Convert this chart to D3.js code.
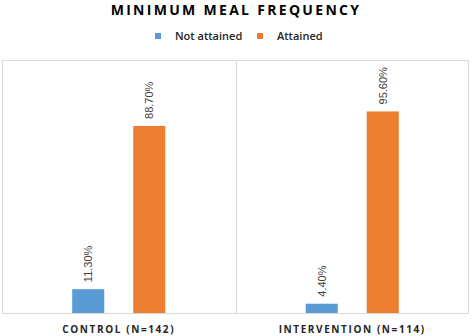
<!DOCTYPE html>
<html>
<head>
<meta charset="utf-8">
<script src="https://cdn.jsdelivr.net/npm/d3@7"></script>
<style>
  body { margin: 0; background: #fff; }
  .chart-title { font-family: "Open Sans", sans-serif; font-weight: 700; font-size: 14px; letter-spacing: 2.3px; fill: #000; }
  .legend-label { font-family: "Open Sans", sans-serif; font-weight: 600; font-size: 11px; fill: #262626; }
  .x-label { font-family: "Open Sans", sans-serif; font-weight: 700; font-size: 10px; letter-spacing: 1.6px; fill: #262626; }
  .bar-label { font-family: "Liberation Sans", Arial, sans-serif; font-size: 11px; fill: #404040; }
</style>
</head>
<body>
<div id="chart"></div>
<script>
const categories = ["CONTROL (N=142)", "INTERVENTION (N=114)"];
const seriesNames = ["Not attained", "Attained"];
const notAttained = [0.113, 0.044];
const attained = [0.887, 0.956];
const colors = ["#5B9BD5", "#ED7D31"];

const data = categories.map((c, i) => ({
  category: c,
  values: [
    { series: seriesNames[0], value: notAttained[i] },
    { series: seriesNames[1], value: attained[i] }
  ]
}));

const width = 472, height = 336;
const margin = { top: 60, right: 3, bottom: 23, left: 2 };

const svg = d3.select("#chart").append("svg")
  .attr("width", width)
  .attr("height", height);

// Title
svg.append("text")
  .attr("class", "chart-title")
  .attr("x", width / 2)
  .attr("y", 15)
  .attr("text-anchor", "middle")
  .text("MINIMUM MEAL FREQUENCY");

// Legend
const legendPos = [155, 257];
const legend = svg.selectAll(".legend")
  .data(seriesNames)
  .enter().append("g")
  .attr("class", "legend")
  .attr("transform", (d, i) => `translate(${legendPos[i]},36)`);
legend.append("rect")
  .attr("x", 0).attr("y", -3)
  .attr("width", 6).attr("height", 6)
  .attr("fill", (d, i) => colors[i]);
legend.append("text")
  .attr("class", "legend-label")
  .attr("x", 20)
  .attr("y", 4)
  .text(d => d);

const x0 = d3.scaleBand()
  .domain(categories)
  .range([margin.left, width - margin.right]);

const x1 = d3.scaleBand()
  .domain(seriesNames)
  .range([0, x0.bandwidth()])
  .paddingInner(0.475)
  .paddingOuter(1.15);

const y = d3.scaleLinear()
  .domain([0, 1.2])
  .range([height - margin.bottom, margin.top]);

// Frame and category dividers
const frame = svg.append("g").attr("stroke", "#d9d9d9").attr("fill", "none");
frame.append("rect")
  .attr("x", margin.left + 0.5)
  .attr("y", margin.top + 0.5)
  .attr("width", width - margin.left - margin.right - 1)
  .attr("height", height - margin.top - margin.bottom);
frame.selectAll(".divider")
  .data(categories.slice(1))
  .enter().append("line")
  .attr("class", "divider")
  .attr("x1", d => Math.round(x0(d)) + 0.5)
  .attr("x2", d => Math.round(x0(d)) + 0.5)
  .attr("y1", margin.top)
  .attr("y2", height - margin.bottom);

// Bars
const groups = svg.selectAll(".group")
  .data(data)
  .enter().append("g")
  .attr("class", "group")
  .attr("transform", d => `translate(${x0(d.category)},0)`);

groups.selectAll(".bar")
  .data(d => d.values)
  .enter().append("rect")
  .attr("class", "bar")
  .attr("x", d => x1(d.series))
  .attr("y", d => y(d.value))
  .attr("width", x1.bandwidth())
  .attr("height", d => y(0) - y(d.value))
  .attr("fill", (d, i) => colors[i]);

groups.selectAll(".bar-label")
  .data(d => d.values)
  .enter().append("text")
  .attr("class", "bar-label")
  .attr("transform", d => `translate(${x1(d.series) + x1.bandwidth() / 2 + 4},${y(d.value) - 7}) rotate(-90)`)
  .attr("text-anchor", "start")
  .text(d => d3.format(".2%")(d.value));

// Category labels
svg.selectAll(".x-label")
  .data(categories)
  .enter().append("text")
  .attr("class", "x-label")
  .attr("x", d => x0(d) + x0.bandwidth() / 2)
  .attr("y", 333)
  .attr("text-anchor", "middle")
  .text(d => d);
</script>
</body>
</html>
